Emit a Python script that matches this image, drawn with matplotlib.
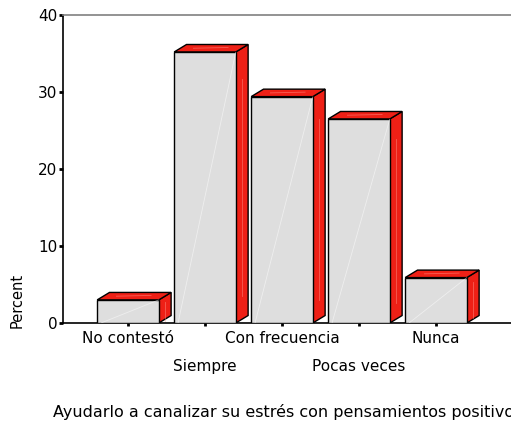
import matplotlib.pyplot as plt
from matplotlib.patches import Polygon

# Percent of answers per category
categories = ['No contestó', 'Siempre', 'Con frecuencia', 'Pocas veces', 'Nunca']
percent = [3.0, 35.2, 29.4, 26.5, 5.9]
x_title = 'Ayudarlo a canalizar su estrés con pensamientos positivos'

W, H = 511, 422
fig = plt.figure(figsize=(W / 100, H / 100), dpi=100)
# axes box in pixels: left 63, right 511, top 15, bottom 323
ax = fig.add_axes([63 / W, 1 - 323 / H, (511 - 63) / W, (323 - 15) / H])

ax.set_ylim(0, 40)
ax.set_xlim(-0.844, 4.974)

front_w = 0.80   # width of the front face
dx, dy = 0.16, 0.97   # depth offset of the 3d box
face = '#dedede'
red = '#ee2016'

for i, v in enumerate(percent):
    x0, x1 = i - front_w / 2, i + front_w / 2
    # side
    ax.add_patch(Polygon([(x1, 0), (x1 + dx, dy), (x1 + dx, v + dy), (x1, v)],
                         closed=True, fc=red, ec='black', lw=1, zorder=2))
    # top
    ax.add_patch(Polygon([(x0, v), (x0 + dx, v + dy), (x1 + dx, v + dy), (x1, v)],
                         closed=True, fc=red, ec='black', lw=1, zorder=2))
    # front
    ax.add_patch(Polygon([(x0, 0), (x1, 0), (x1, v), (x0, v)],
                         closed=True, fc=face, ec='black', lw=1, zorder=3))
    # faint glare streaks
    ax.plot([x0 + 0.05, x1], [0, v], color='white', lw=0.6, alpha=0.5, zorder=4,
            solid_capstyle='butt')
    ax.plot([x1 + dx * 0.5, x1 + dx * 0.5], [v * 0.1, v * 0.9], color='#ff9a90',
            lw=0.6, alpha=0.5, zorder=4)
    ax.plot([x0 + 0.25, x1 - 0.1], [v + dy * 0.5, v + dy * 0.6], color='#ff9a90',
            lw=0.6, alpha=0.5, zorder=4)

ax.spines['right'].set_visible(False)
ax.spines['top'].set_color('#808080')
ax.spines['top'].set_linewidth(1.2)
ax.spines['left'].set_linewidth(1.2)
ax.spines['bottom'].set_linewidth(1.2)

ax.set_yticks([0, 10, 20, 30, 40])
ax.tick_params(axis='y', length=3, width=2, labelsize=11, pad=1)
ax.set_xticks(range(len(categories)))
ax.set_xticklabels([])
ax.tick_params(axis='x', length=2.5, width=2)

# staggered category labels
for i, c in enumerate(categories):
    off = -11 if i % 2 == 0 else -31
    ax.annotate(c, xy=(i, 0), xycoords=('data', 'axes fraction'),
                xytext=(0, off), textcoords='offset points',
                ha='center', va='center', fontsize=11)

fig.text(17 / W, 1 - 300 / H, 'Percent', rotation=90, ha='center', va='center',
         fontsize=10.5)
fig.text(53 / W, 1 - 412 / H, x_title, ha='left', va='center', fontsize=11.5)

fig.savefig('out.png', dpi=100)
